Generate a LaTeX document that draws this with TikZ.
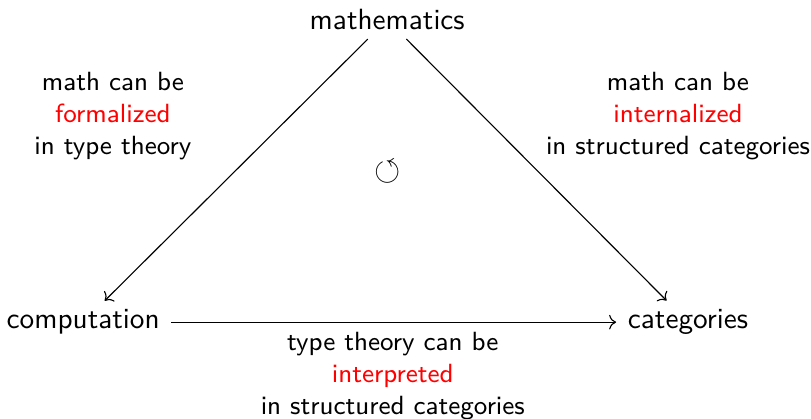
\documentclass[tikz,border=0pt]{standalone}
\usepackage{amsmath,amssymb}
\usepackage{xcolor}
\usepackage{tikz}
\usetikzlibrary{arrows.meta,positioning}

\begin{document}
\begin{tikzpicture}[font=\sffamily\fontsize{10.4}{12.5}\selectfont,
  vertex/.style={inner xsep=4pt,inner ysep=3pt},
  remark/.style={align=center,inner sep=0pt,font=\sffamily\fontsize{9.36}{11.44}\selectfont}]
  \useasboundingbox (0,0) rectangle (10.1375,5.2375);
  \node[vertex] (math) at (4.84,4.99) {mathematics};
  \node[vertex] (comp) at (1.04,1.21) {computation};
  \node[vertex] (cats) at (8.6,1.21) {categories};
  \draw[->] (math) -- (comp);
  \draw[->] (math) -- (cats);
  \draw[->] (comp) -- (cats);
  \node[remark] (formal) at (1.41,3.785) {math can be\\ \textcolor{red}{formalized}\\ in type theory};
  \node[remark] (internal) at (8.475,3.785) {math can be\\ \textcolor{red}{internalized}\\ in structured categories};
  \node[remark] (interp) at (4.91,0.535) {type theory can be\\ \textcolor{red}{interpreted}\\ in structured categories};
  \node[font=\large] (loop) at (4.84,3.09) {$\circlearrowleft$};
\end{tikzpicture}
\end{document}
